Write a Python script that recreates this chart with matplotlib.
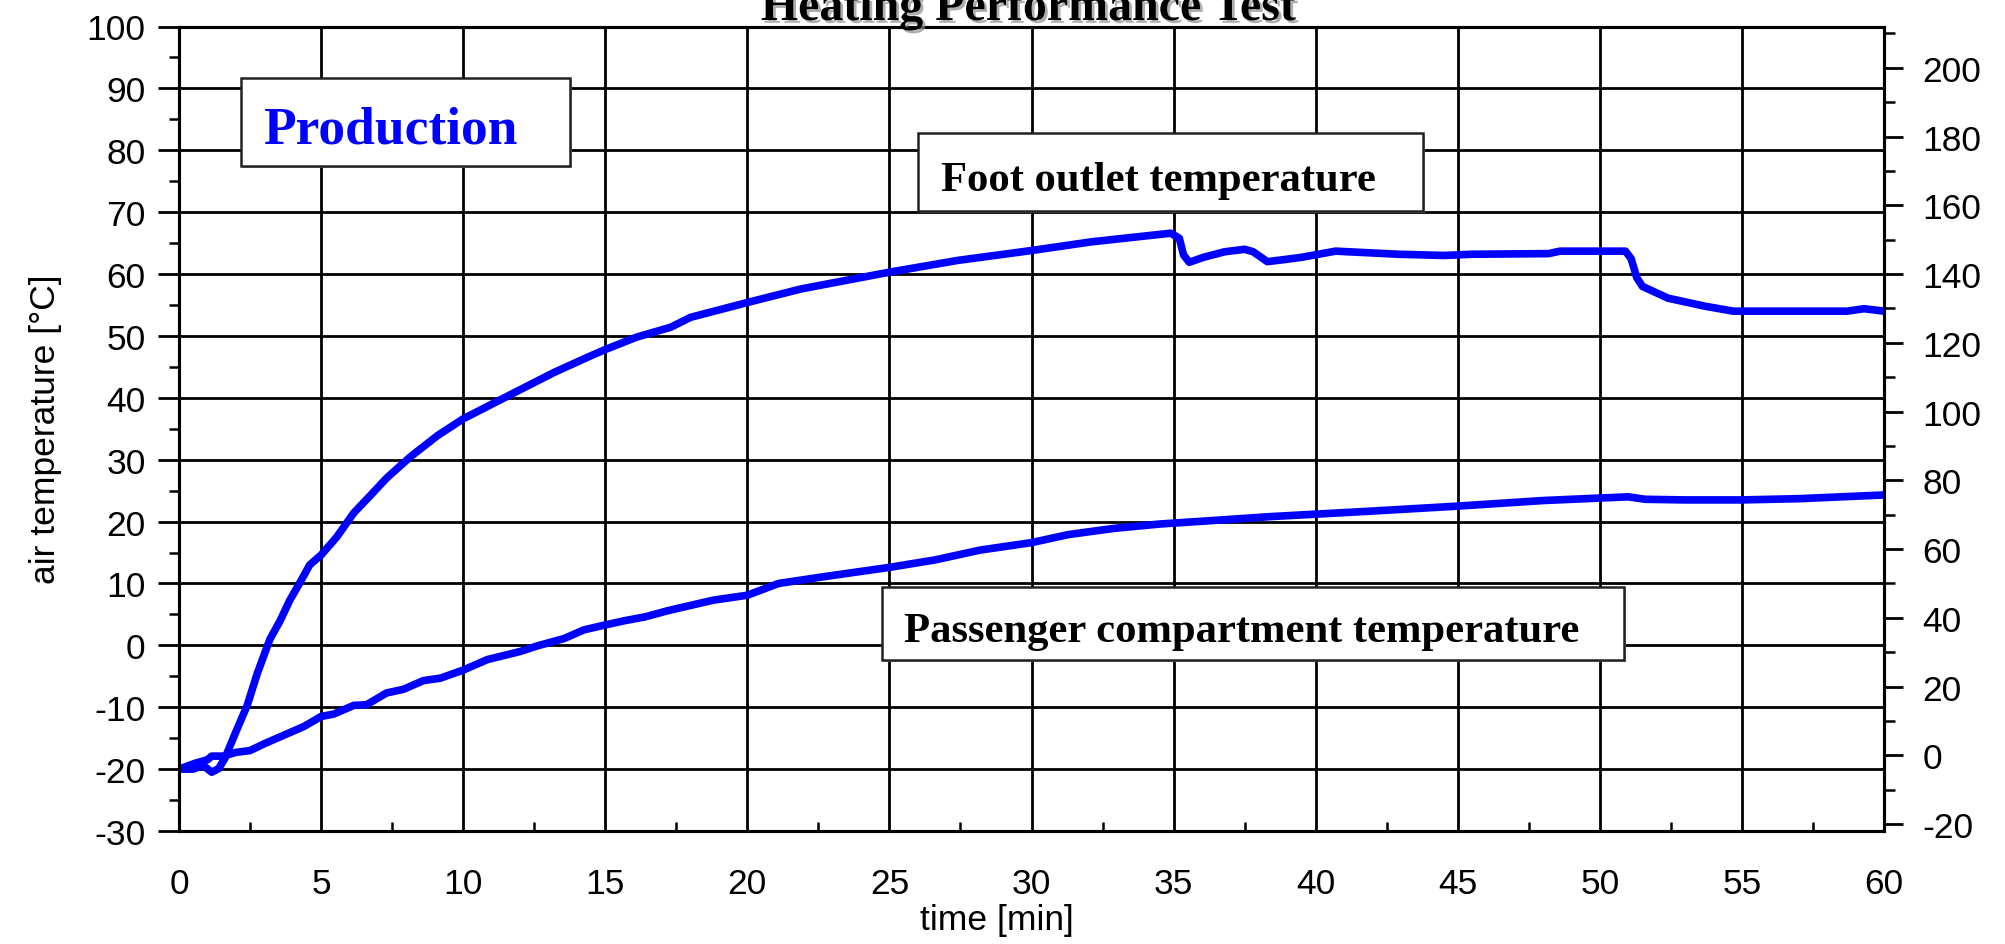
import matplotlib
matplotlib.use("Agg")
import matplotlib.pyplot as plt
import matplotlib.patheffects as pe
from matplotlib.patches import Rectangle
from matplotlib.ticker import MultipleLocator

# ---- measured data -------------------------------------------------------
foot_time = [0, 0.5, 0.85, 1.15, 1.4, 1.62, 2.0, 2.4, 2.75, 3.2, 3.55, 3.9,
             4.25, 4.6, 5.0, 5.55, 6.15, 6.75, 7.3, 8.15, 9.1, 10.0, 10.85,
             12.0, 13.2, 14.4, 15.0, 16.1, 17.3, 18.0, 20.0, 21.9, 23.5,
             25.0, 27.4, 30.0, 32.1, 33.7, 34.9, 35.2, 35.35, 35.55, 36.05,
             36.8, 37.5, 37.8, 38.3, 39.0, 39.5, 40.7, 42.9, 44.5, 45.5,
             48.2, 48.6, 50.9, 51.1, 51.3, 51.5, 52.4, 53.7, 54.7, 58.7,
             59.3, 60.0]
foot_temp = [-20, -20, -19.4, -20.5, -19.9, -18.2, -14.0, -9.7, -4.6, 1.0,
             3.9, 7.3, 10.1, 13.0, 14.6, 17.5, 21.4, 24.3, 27.0, 30.5, 33.9,
             36.6, 38.6, 41.3, 44.1, 46.6, 47.8, 49.8, 51.4, 53.0, 55.4,
             57.6, 59.0, 60.3, 62.2, 63.8, 65.2, 66.0, 66.6, 65.8, 63.1,
             61.9, 62.7, 63.6, 64.0, 63.6, 62.0, 62.4, 62.7, 63.7, 63.2,
             63.0, 63.2, 63.3, 63.7, 63.7, 62.5, 59.4, 58.0, 56.1, 54.8,
             54.0, 54.0, 54.4, 54.0]

cabin_time = [0, 0.6, 1.0, 1.15, 1.55, 2.0, 2.5, 3.0, 3.7, 4.4, 5.0, 5.45,
              6.15, 6.6, 7.3, 7.9, 8.6, 9.2, 10.0, 10.85, 12.0, 12.6, 13.55,
              14.25, 15.0, 15.7, 16.4, 17.2, 18.8, 20.0, 21.1, 22.7, 25.0,
              26.6, 28.2, 30.0, 31.3, 32.9, 34.5, 36.8, 38.4, 40.0, 42.0,
              45.0, 48.0, 50.0, 51.0, 51.6, 53.0, 55.0, 57.0, 59.0, 60.0]
cabin_temp = [-20, -19.0, -18.5, -17.9, -17.9, -17.3, -17.0, -15.9, -14.5,
              -13.1, -11.5, -11.1, -9.7, -9.6, -7.7, -7.1, -5.7, -5.3, -4.0,
              -2.3, -1.0, -0.1, 1.1, 2.5, 3.3, 4.0, 4.6, 5.6, 7.3, 8.1, 10.0,
              11.1, 12.6, 13.8, 15.4, 16.6, 17.9, 18.9, 19.6, 20.3, 20.8,
              21.2, 21.7, 22.5, 23.4, 23.8, 24.0, 23.6, 23.5, 23.5, 23.7,
              24.1, 24.3]

x_ticks = list(range(0, 61, 5))
c_ticks = list(range(-30, 101, 10))
f_ticks = list(range(-20, 201, 20))

title_text = "Heating Performance Test"
tag_text = "Production"
foot_label = "Foot outlet temperature"
cabin_label = "Passenger compartment temperature"

# ---- styling -------------------------------------------------------------
SANS = ["Liberation Sans", "DejaVu Sans"]
SERIF = ["Liberation Serif", "DejaVu Serif"]
plt.rcParams["font.family"] = SANS
plt.rcParams["axes.unicode_minus"] = False
BLUE = "#0000ff"
FS = 25.5

W, H = 2005, 945
fig = plt.figure(figsize=(W / 100, H / 100), dpi=100)
L, R, T, B = 179, 1884, 27.5, 832
ax = fig.add_axes([L / W, 1 - B / H, (R - L) / W, (B - T) / H])

ax.plot(foot_time, foot_temp, color=BLUE, lw=5.5, zorder=3,
        solid_joinstyle="round", solid_capstyle="round")
ax.plot(cabin_time, cabin_temp, color=BLUE, lw=5.5, zorder=3,
        solid_joinstyle="round", solid_capstyle="round")

ax.set_xlim(0, 60)
ax.set_ylim(-30, 100)
ax.set_xticks(x_ticks)
ax.set_yticks(c_ticks)
ax.xaxis.set_minor_locator(MultipleLocator(2.5))
ax.yaxis.set_minor_locator(MultipleLocator(5))
ax.grid(True, which="major", color="black", lw=2.0, zorder=1)
ax.set_axisbelow(True)

ax.tick_params(axis="x", which="major", length=0, pad=26, labelsize=FS)
ax.tick_params(axis="x", which="minor", direction="in", length=6.5, width=1.8)
ax.tick_params(axis="y", which="major", direction="out", length=15,
               width=2.0, pad=9, labelsize=FS)
ax.tick_params(axis="y", which="minor", direction="out", length=7, width=1.8)
for s in ax.spines.values():
    s.set_linewidth(2.2)
    s.set_color("black")

# Fahrenheit scale on the right
ax2 = ax.twinx()
ax2.set_ylim(-30 * 1.8 + 32, 100 * 1.8 + 32)
ax2.set_yticks(f_ticks)
ax2.yaxis.set_minor_locator(MultipleLocator(10))
ax2.tick_params(axis="y", which="major", direction="out", length=13.5,
                width=2.0, pad=14, labelsize=FS)
ax2.tick_params(axis="y", which="minor", direction="out", length=8, width=1.8)
for s in ax2.spines.values():
    s.set_linewidth(2.2)

ax.set_ylabel("air temperature [°C]", fontsize=FS, labelpad=18)
fig.text(997 / W, 1 - 921 / H, "time [min]", fontsize=FS,
         ha="center", va="center")

shadow = [pe.SimplePatchShadow(offset=(2, -2), shadow_rgbFace="0.55",
                               alpha=0.7), pe.Normal()]
fig.text(1028 / W, 1 - 21 / H, title_text, family=SERIF, weight="bold",
         fontsize=34.5, ha="center", va="baseline", path_effects=shadow)


def boxed_label(x0, y0, x1, y1, tx, ty, text, color, size):
    fx = lambda px: (px - L) / (R - L)
    fy = lambda py: (B - py) / (B - T)
    ax2.add_patch(Rectangle((fx(x0), fy(y1)), fx(x1) - fx(x0),
                            fy(y0) - fy(y1), transform=ax.transAxes,
                            facecolor="white", edgecolor="#222222", lw=1.8,
                            zorder=5, path_effects=[
                                pe.SimplePatchShadow(offset=(1.5, -1.5),
                                                     shadow_rgbFace="0.6",
                                                     alpha=0.8),
                                pe.Normal()]))
    ax2.text(fx(tx), fy(ty), text, transform=ax.transAxes, family=SERIF,
             weight="bold", fontsize=size, color=color, ha="left",
             va="baseline", zorder=6)


boxed_label(241, 79, 570, 167, 263, 143, tag_text, BLUE, 38.5)
boxed_label(918, 134, 1423, 212, 941, 191, foot_label, "black", 30.7)
boxed_label(882, 588, 1624, 661, 904, 642, cabin_label, "black", 30.7)

fig.savefig("out.png", dpi=100)
